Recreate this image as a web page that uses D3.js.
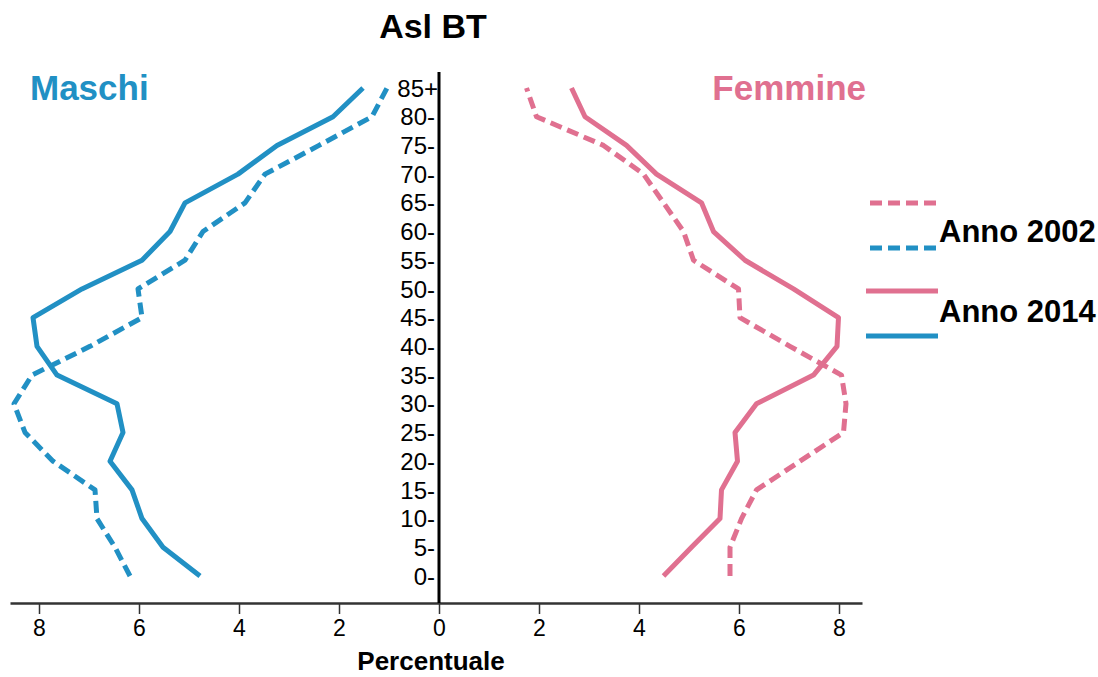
<!DOCTYPE html>
<html>
<head>
<meta charset="utf-8">
<script src="https://cdn.jsdelivr.net/npm/d3@7"></script>
<style>
  html, body { margin: 0; padding: 0; background: #fff; }
  svg { display: block; }
</style>
</head>
<body>
<svg id="chart" width="1098" height="677"></svg>
<script>
// Age classes (bottom to top) and population share (%) by sex and year
const ageLabels = ["0-", "5-", "10-", "15-", "20-", "25-", "30-", "35-", "40-", "45-",
                   "50-", "55-", "60-", "65-", "70-", "75-", "80-", "85+"];
const maschi2002 = [6.18, 6.48, 6.84, 6.88, 7.72, 8.28, 8.50, 8.14, 6.98, 5.94,
                    6.02, 5.08, 4.72, 3.88, 3.48, 2.40, 1.34, 1.04];
const maschi2014 = [4.78, 5.52, 5.94, 6.14, 6.58, 6.32, 6.44, 7.64, 8.04, 8.12,
                    7.14, 5.94, 5.38, 5.08, 4.02, 3.24, 2.12, 1.52];
const femmine2002 = [5.82, 5.82, 6.05, 6.35, 7.22, 8.09, 8.14, 8.05, 7.02, 6.02,
                     5.99, 5.09, 4.89, 4.49, 4.09, 3.29, 1.95, 1.75];
const femmine2014 = [4.49, 5.05, 5.62, 5.65, 5.97, 5.92, 6.35, 7.49, 7.96, 7.99,
                     7.09, 6.12, 5.49, 5.25, 4.35, 3.75, 2.92, 2.65];
const xTicks = [-8, -6, -4, -2, 0, 2, 4, 6, 8];
const legendLabels = ["Anno 2002", "Anno 2014"];

const BLUE = "#2190c4";
const PINK = "#e07090";
const DASH = "12,6";
const FONT = "'Liberation Sans', Arial, Helvetica, sans-serif";

const svg = d3.select("#chart");

// Shared horizontal scale: men drawn on the negative side
const x = d3.scaleLinear().domain([-8.58, 8.46]).range([10, 862]);
const y = d3.scalePoint().domain(ageLabels).range([576, 88]);

// Bottom axis
const xAxis = d3.axisBottom(x)
  .tickValues(xTicks)
  .tickFormat(d => Math.abs(d))
  .tickSize(11)
  .tickSizeOuter(0)
  .tickPadding(6);
const gx = svg.append("g")
  .attr("transform", "translate(0,603)")
  .call(xAxis);
gx.select(".domain").attr("stroke", "#333").attr("stroke-width", 2.5);
gx.selectAll(".tick line").attr("stroke", "#333").attr("stroke-width", 1.5);
gx.selectAll(".tick text")
  .attr("fill", "#000")
  .style("font-family", FONT)
  .style("font-size", "23px");

// Central vertical axis
svg.append("line")
  .attr("x1", x(0)).attr("x2", x(0))
  .attr("y1", 72).attr("y2", 603)
  .attr("stroke", "#000").attr("stroke-width", 3);

// Age labels left of the central axis
svg.append("g").selectAll("text")
  .data(ageLabels)
  .join("text")
  .attr("x", d => d.endsWith("+") ? x(0) - 1 : x(0) - 4)
  .attr("y", d => y(d))
  .attr("dy", "0.36em")
  .attr("text-anchor", "end")
  .style("font-family", FONT)
  .style("font-size", "24px")
  .attr("fill", "#000")
  .text(d => d);

// Profiles
const line = d3.line()
  .x(d => x(d.v))
  .y(d => y(d.age));

function profile(values, sign, color, dashed) {
  const pts = values.map((v, i) => ({ age: ageLabels[i], v: sign * v }));
  svg.append("path")
    .datum(pts)
    .attr("d", line)
    .attr("fill", "none")
    .attr("stroke", color)
    .attr("stroke-width", 5)
    .attr("stroke-linejoin", "round")
    .attr("stroke-dasharray", dashed ? DASH : null);
}
profile(maschi2002, -1, BLUE, true);
profile(maschi2014, -1, BLUE, false);
profile(femmine2002, 1, PINK, true);
profile(femmine2014, 1, PINK, false);

// Titles
svg.append("text")
  .attr("x", 433).attr("y", 38)
  .attr("text-anchor", "middle")
  .style("font-family", FONT).style("font-weight", "bold").style("font-size", "34px")
  .text("Asl BT");
svg.append("text")
  .attr("x", 30).attr("y", 100)
  .style("font-family", FONT).style("font-weight", "bold").style("font-size", "35px")
  .attr("fill", BLUE)
  .text("Maschi");
svg.append("text")
  .attr("x", 866).attr("y", 100)
  .attr("text-anchor", "end")
  .style("font-family", FONT).style("font-weight", "bold").style("font-size", "35px")
  .attr("fill", PINK)
  .text("Femmine");
svg.append("text")
  .attr("x", 431).attr("y", 670)
  .attr("text-anchor", "middle")
  .style("font-family", FONT)
  .style("font-weight", "bold").style("font-size", "26px")
  .text("Percentuale");

// Legend
const legend = svg.append("g");
const legendRows = [
  { label: legendLabels[0], dashed: true, y1: 203, y2: 248, ty: 242 },
  { label: legendLabels[1], dashed: false, y1: 291, y2: 336, ty: 322 }
];
legendRows.forEach(r => {
  [[r.y1, PINK], [r.y2, BLUE]].forEach(([ly, c]) => {
    legend.append("line")
      .attr("x1", r.dashed ? 870 : 866).attr("x2", 938)
      .attr("y1", ly).attr("y2", ly)
      .attr("stroke", c).attr("stroke-width", 5)
      .attr("stroke-dasharray", r.dashed ? DASH : null);
  });
  legend.append("text")
    .attr("x", 939).attr("y", r.ty)
    .style("font-family", FONT).style("font-weight", "bold").style("font-size", "31px")
    .text(r.label);
});
</script>
</body>
</html>
